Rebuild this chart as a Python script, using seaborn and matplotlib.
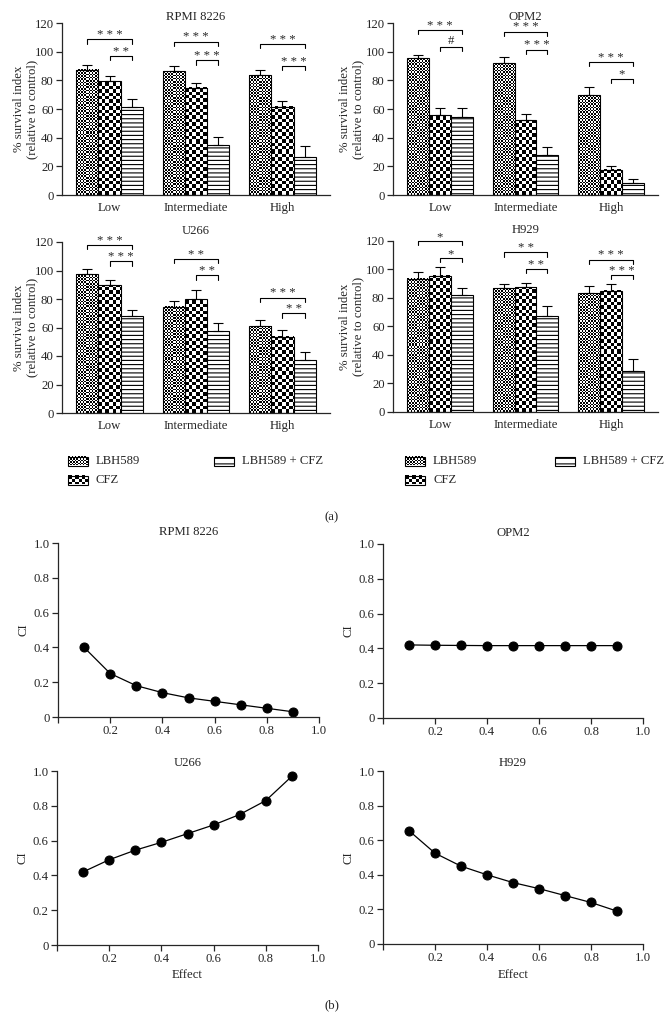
import numpy as np
import pandas as pd
import seaborn as sns
import matplotlib
matplotlib.use("Agg")
import matplotlib.pyplot as plt
from matplotlib.patches import Rectangle

# ---- data ----
doses = ["Low", "Intermediate", "High"]
treatments = ["LBH589", "CFZ", "LBH589 + CFZ"]
cell_lines = ["RPMI 8226", "OPM2", "U266", "H929"]

# survival index (%) : one list per treatment, values for Low / Intermediate / High
surv_rpmi = {"LBH589": [87.5, 86.5, 83.5], "CFZ": [79.5, 75.0, 61.5], "LBH589 + CFZ": [61.5, 35.0, 26.5]}
surv_opm2 = {"LBH589": [95.5, 92.0, 69.5], "CFZ": [55.5, 52.0, 17.5], "LBH589 + CFZ": [54.5, 28.0, 8.5]}
surv_u266 = {"LBH589": [97.5, 74.5, 61.0], "CFZ": [89.5, 80.0, 53.5], "LBH589 + CFZ": [68.0, 57.5, 37.0]}
surv_h929 = {"LBH589": [93.5, 87.0, 83.5], "CFZ": [95.5, 87.5, 85.0], "LBH589 + CFZ": [82.0, 67.5, 29.0]}

err_rpmi = {"LBH589": [3.5, 3.5, 4.0], "CFZ": [3.5, 3.0, 4.0], "LBH589 + CFZ": [5.5, 5.5, 8.0]}
err_opm2 = {"LBH589": [2.0, 4.5, 6.0], "CFZ": [5.5, 4.5, 2.5], "LBH589 + CFZ": [6.0, 5.5, 2.5]}
err_u266 = {"LBH589": [3.5, 4.0, 4.5], "CFZ": [4.0, 6.5, 5.0], "LBH589 + CFZ": [4.5, 5.5, 6.0]}
err_h929 = {"LBH589": [4.5, 3.0, 5.0], "CFZ": [6.0, 3.0, 4.5], "LBH589 + CFZ": [5.0, 7.0, 8.0]}

# significance brackets: (LBH589 vs combo) and (CFZ vs combo)
sig_big_y = {"RPMI 8226": [108.5, 107, 105.5], "OPM2": [115, 114, 93], "U266": [118, 108, 81], "H929": [120, 112, 107]}
sig_big_txt = {"RPMI 8226": ["***", "***", "***"], "OPM2": ["***", "***", "***"], "U266": ["***", "**", "***"], "H929": ["*", "**", "***"]}
sig_small_y = {"RPMI 8226": [97, 94, 90], "OPM2": [103.5, 101.5, 81], "U266": [106.5, 96.5, 70], "H929": [108, 100.5, 96]}
sig_small_txt = {"RPMI 8226": ["**", "***", "***"], "OPM2": ["#", "***", "*"], "U266": ["***", "**", "**"], "H929": ["*", "**", "***"]}

effect = [0.1, 0.2, 0.3, 0.4, 0.5, 0.6, 0.7, 0.8, 0.9]
ci_rpmi = [0.40, 0.25, 0.18, 0.14, 0.11, 0.09, 0.07, 0.05, 0.03]
ci_opm2 = [0.42, 0.418, 0.417, 0.416, 0.416, 0.416, 0.416, 0.416, 0.416]
ci_u266 = [0.42, 0.49, 0.545, 0.59, 0.64, 0.69, 0.75, 0.83, 0.97]
ci_h929 = [0.655, 0.525, 0.45, 0.40, 0.355, 0.32, 0.28, 0.24, 0.19]

surv = {"RPMI 8226": surv_rpmi, "OPM2": surv_opm2, "U266": surv_u266, "H929": surv_h929}
errs = {"RPMI 8226": err_rpmi, "OPM2": err_opm2, "U266": err_u266, "H929": err_h929}
cis = {"RPMI 8226": ci_rpmi, "OPM2": ci_opm2, "U266": ci_u266, "H929": ci_h929}

# ---- style ----
sns.set_style("ticks")
plt.rcParams["font.family"] = ["Liberation Serif", "DejaVu Serif"]
FS = 9.2
plt.rcParams["font.size"] = FS
plt.rcParams["axes.linewidth"] = 0.9
plt.rcParams["hatch.linewidth"] = 0.8
plt.rcParams["xtick.major.width"] = 0.9
plt.rcParams["ytick.major.width"] = 0.9

W, H = 664, 1018
fig = plt.figure(figsize=(W / 100, H / 100), dpi=100)


def px_axes(left, top, right, bottom):
    return fig.add_axes([left / W, 1 - bottom / H, (right - left) / W, (bottom - top) / H])


def checker(nx, ny, sq):
    j = np.arange(nx)[None, :]
    i = np.arange(ny)[:, None]
    return ((np.floor(j / sq) + np.floor(i / sq)) % 2).astype(float)


fills = {"LBH589": 1.6, "CFZ": 3.4}  # checker square size in px


def bar_panel(ax, name, title_pad, label_x):
    rows = []
    for t in treatments:
        for d, v in zip(doses, surv[name][t]):
            rows.append({"dose": d, "treatment": t, "survival": v})
    df = pd.DataFrame(rows)
    sns.barplot(data=df, x="dose", y="survival", hue="treatment", order=doses,
                hue_order=treatments, palette=["white"] * 3, edgecolor="black",
                linewidth=0.8, width=0.77, errorbar=None, legend=False, ax=ax)
    ax.set_xlim(-0.55, 2.55)
    ax.set_ylim(0, 120)
    centers = {}
    for t, cont in zip(treatments, ax.containers):
        xs, hs = [], []
        for p in cont.patches:
            x0, w, h = p.get_x(), p.get_width(), p.get_height()
            xs.append(x0 + w / 2)
            hs.append(h)
            if t in fills:
                p.set_facecolor("none")
                a = ax.transData.transform((x0, 0))
                b = ax.transData.transform((x0 + w, h))
                nx, ny = int(round(b[0] - a[0])), int(round(b[1] - a[1]))
                ax.imshow(checker(nx, max(ny, 1), fills[t]), cmap="gray", vmin=0, vmax=1,
                          extent=(x0, x0 + w, 0, h), origin="lower", aspect="auto",
                          interpolation="nearest", zorder=0.5)
            else:
                p.set_hatch("----")
        centers[t] = xs
        ax.errorbar(xs, hs, yerr=[np.zeros(3), errs[name][t]], fmt="none", ecolor="black",
                    elinewidth=0.8, capsize=3.5, capthick=0.8, zorder=3)
    ax.set_xlim(-0.55, 2.55)
    ax.set_ylim(0, 120)
    # significance brackets
    for k in range(3):
        for xa, y, s in [(centers["LBH589"][k], sig_big_y[name][k], sig_big_txt[name][k]),
                         (centers["CFZ"][k], sig_small_y[name][k], sig_small_txt[name][k])]:
            xb = centers["LBH589 + CFZ"][k]
            ax.plot([xa, xa, xb, xb], [y - 3, y, y, y - 3], color="black", lw=0.8, clip_on=False)
            if s == "#":
                ax.text((xa + xb) / 2, y + 2, s, ha="center", va="baseline", fontsize=FS,
                        clip_on=False)
            else:
                ax.text((xa + xb) / 2, y + 0.8, " ".join(s), ha="center", va="baseline",
                        fontsize=FS, clip_on=False)
    ax.set_yticks(range(0, 121, 20))
    ax.tick_params(axis="x", length=0, pad=5, labelsize=FS)
    ax.tick_params(axis="y", length=4, pad=2, labelsize=FS)
    ax.set_xlabel("")
    ax.set_ylabel("% survival index\n(relative to control)", fontsize=FS, linespacing=1.05)
    ax.yaxis.set_label_coords(label_x, 0.5)
    ax.set_title(name, fontsize=FS, pad=title_pad)
    sns.despine(ax=ax)


def ci_panel(ax, name, title_pad, xlabel):
    sns.lineplot(x=effect, y=cis[name], ax=ax, color="black", marker="o", markersize=6.5,
                 markeredgecolor="black", linewidth=0.9, clip_on=False)
    ax.set_xlim(0, 1)
    ax.set_ylim(0, 1)
    ax.set_xticks([0, 0.2, 0.4, 0.6, 0.8, 1.0])
    ax.set_xticklabels(["", "0.2", "0.4", "0.6", "0.8", "1.0"])
    ax.set_yticks([0, 0.2, 0.4, 0.6, 0.8, 1.0])
    ax.set_yticklabels(["0", "0.2", "0.4", "0.6", "0.8", "1.0"])
    ax.tick_params(length=4, pad=2, labelsize=FS)
    ax.set_ylabel("CI", fontsize=FS, labelpad=3)
    ax.set_xlabel("Effect" if xlabel else "", fontsize=FS, labelpad=3)
    ax.set_title(name, fontsize=FS, pad=title_pad)
    sns.despine(ax=ax)


bar_boxes = [(62, 23, 330, 195), (393, 23, 658, 195), (62, 242, 330, 413), (393, 241, 658, 412)]
bar_pads = [2.5, 2.5, 5.5, 5.5]
bar_label_x = [-0.09, -0.11, -0.09, -0.11]
for name, box, pad, lx in zip(cell_lines, bar_boxes, bar_pads, bar_label_x):
    bar_panel(px_axes(*box), name, pad, lx)

ci_boxes = [(58, 543, 319, 717), (383, 544, 643, 718), (57, 771, 318, 945), (383, 771, 643, 944)]
ci_pads = [5.5, 5.5, 3.5, 3.5]
for k, (name, box, pad) in enumerate(zip(cell_lines, ci_boxes, ci_pads)):
    ci_panel(px_axes(*box), name, pad, k >= 2)

# ---- legends and panel letters in a pixel-coordinate overlay ----
ov = fig.add_axes([0, 0, 1, 1], zorder=-1)
ov.set_xlim(0, W)
ov.set_ylim(H, 0)
ov.axis("off")


def legend_entry(x, y, label):
    w, h = 20, 9
    if label in fills:
        ov.imshow(checker(w, h, fills[label]), cmap="gray", vmin=0, vmax=1,
                  extent=(x, x + w, y + h / 2, y - h / 2), origin="upper", aspect="auto",
                  interpolation="nearest")
        ov.add_patch(Rectangle((x, y - h / 2), w, h, fill=False, ec="black", lw=0.8))
    else:
        ov.add_patch(Rectangle((x, y - h / 2), w, h, fc="white", ec="black", lw=0.8, hatch="---"))
    ov.text(x + 28, y, label, va="center", ha="left", fontsize=FS)


for x0, x1 in [(68, 214), (405, 555)]:
    legend_entry(x0, 461, "LBH589")
    legend_entry(x0, 480, "CFZ")
    legend_entry(x1, 461, "LBH589 + CFZ")
ov.set_xlim(0, W)
ov.set_ylim(H, 0)

ov.text(332, 517, "(a)", ha="center", va="center", fontsize=FS)
ov.text(332, 1005, "(b)", ha="center", va="center", fontsize=FS)

fig.savefig("out.png", dpi=100)
